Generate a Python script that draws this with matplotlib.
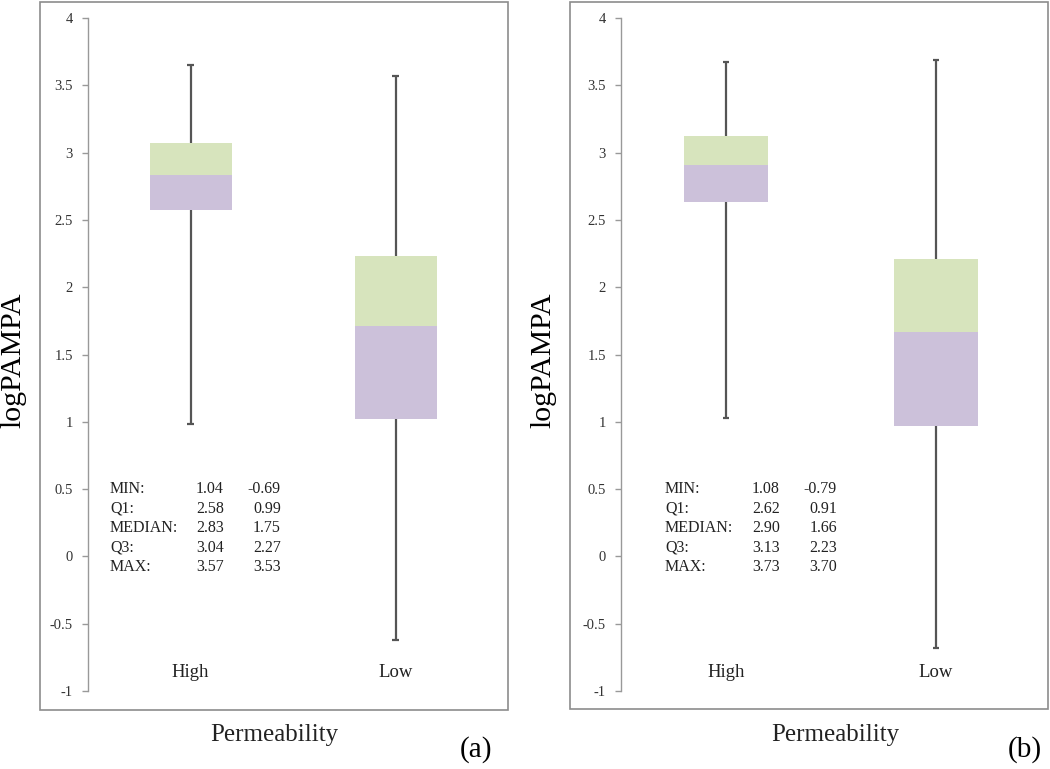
import matplotlib
matplotlib.use("Agg")
import matplotlib.pyplot as plt
from matplotlib.patches import Rectangle
import matplotlib.transforms as mtransforms

plt.rcParams['font.family'] = ['Liberation Serif', 'DejaVu Serif']

categories = ["High", "Low"]

# Panel (a) drawn values
a_min = [0.98, -0.62]
a_q1 = [2.57, 1.02]
a_med = [2.83, 1.71]
a_q3 = [3.07, 2.23]
a_max = [3.65, 3.57]

# Panel (b) drawn values
b_min = [1.03, -0.68]
b_q1 = [2.63, 0.97]
b_med = [2.91, 1.67]
b_q3 = [3.12, 2.21]
b_max = [3.67, 3.69]

# Summary tables printed on the charts
row_labels = ["MIN:", "Q1:", "MEDIAN:", "Q3:", "MAX:"]
a_tab_high = ["1.04", "2.58", "2.83", "3.04", "3.57"]
a_tab_low = ["-0.69", "0.99", "1.75", "2.27", "3.53"]
b_tab_high = ["1.08", "2.62", "2.90", "3.13", "3.73"]
b_tab_low = ["-0.79", "0.91", "1.66", "2.23", "3.70"]

yticks = [-1, -0.5, 0, 0.5, 1, 1.5, 2, 2.5, 3, 3.5, 4]
ytick_labels = ["-1", "-0.5", "0", "0.5", "1", "1.5", "2", "2.5", "3", "3.5", "4"]

W, H = 1050, 769
fig = plt.figure(figsize=(W / 100, H / 100), dpi=100)

GREEN = "#D7E4BD"
PURPLE = "#CCC1DA"
WHISK = "#555555"
BORDER = "#8C8C8C"


def px_rect(x0, x1, ytop, ybot):
    return [x0 / W, (H - ybot) / H, (x1 - x0) / W, (ybot - ytop) / H]


def panel(axrect, border, mins, q1, med, q3, maxs, tab_hi, tab_lo,
          tab_x, letter, letter_x, xlabel_x, ylabel_x):
    bx0, bx1, by0, by1 = border
    fig.patches.append(Rectangle((bx0 / W, (H - by1) / H), (bx1 - bx0) / W,
                                 (by1 - by0) / H, transform=fig.transFigure,
                                 fill=False, edgecolor=BORDER, linewidth=1.2))
    ax = fig.add_axes(axrect)
    ax.set_xlim(0.5, 2.5)
    ax.set_ylim(-1, 4)
    ax.patch.set_alpha(0)
    for s in ["top", "right", "bottom"]:
        ax.spines[s].set_visible(False)
    ax.spines["left"].set_color("#999999")
    ax.spines["left"].set_linewidth(1.0)
    ax.set_xticks([])
    ax.set_yticks(yticks)
    ax.set_yticklabels(ytick_labels)
    ax.tick_params(axis="y", direction="out", length=4, width=1,
                   color="#999999", pad=7, labelsize=10.5, labelcolor="#333333")

    xs = [1, 2]
    ax.vlines(xs, mins, maxs, color=WHISK, linewidth=1.6, zorder=1)
    ax.hlines(mins, [x - 0.015 for x in xs], [x + 0.015 for x in xs],
              color=WHISK, linewidth=1.6, zorder=1)
    ax.hlines(maxs, [x - 0.015 for x in xs], [x + 0.015 for x in xs],
              color=WHISK, linewidth=1.6, zorder=1)
    ax.bar(xs, [m - a for m, a in zip(med, q1)], bottom=q1, width=0.4,
           color=PURPLE, zorder=2)
    ax.bar(xs, [b - m for b, m in zip(q3, med)], bottom=med, width=0.4,
           color=GREEN, zorder=2)

    for x, c in zip(xs, categories):
        ax.text(x, -0.86, c, ha="center", va="center", fontsize=13.5,
                color="#222222")

    tx0, tx1, tx2 = tab_x
    trans = mtransforms.blended_transform_factory(fig.transFigure, ax.transData)
    rows_y = [0.50, 0.355, 0.21, 0.065, -0.08]
    for i, y in enumerate(rows_y):
        ax.text(tx0 / W, y, row_labels[i], transform=trans, ha="left",
                va="center", fontsize=11.5, color="#222222")
        ax.text(tx1 / W, y, tab_hi[i], transform=trans, ha="right",
                va="center", fontsize=11.5, color="#222222")
        ax.text(tx2 / W, y, tab_lo[i], transform=trans, ha="right",
                va="center", fontsize=11.5, color="#222222")

    fig.text(xlabel_x / W, 1 - 735 / H, "Permeability", ha="center",
             va="center", fontsize=18, color="#222222")
    fig.text(letter_x / W, 1 - 750 / H, letter, ha="center", va="center",
             fontsize=21, color="#000000")
    fig.text(ylabel_x / W, 1 - 360 / H, "logPAMPA", ha="center", va="center",
             rotation=90, fontsize=21.5, color="#000000")


panel(px_rect(88, 498, 18, 691), (40, 508, 2, 710),
      a_min, a_q1, a_med, a_q3, a_max, a_tab_high, a_tab_low,
      (110, 224, 281), "(a)", 476, 274, 13)
panel(px_rect(621, 1041, 18, 691), (570, 1048, 2, 709),
      b_min, b_q1, b_med, b_q3, b_max, b_tab_high, b_tab_low,
      (665, 780, 837), "(b)", 1025, 835, 543)

fig.savefig("out.png", dpi=100)
